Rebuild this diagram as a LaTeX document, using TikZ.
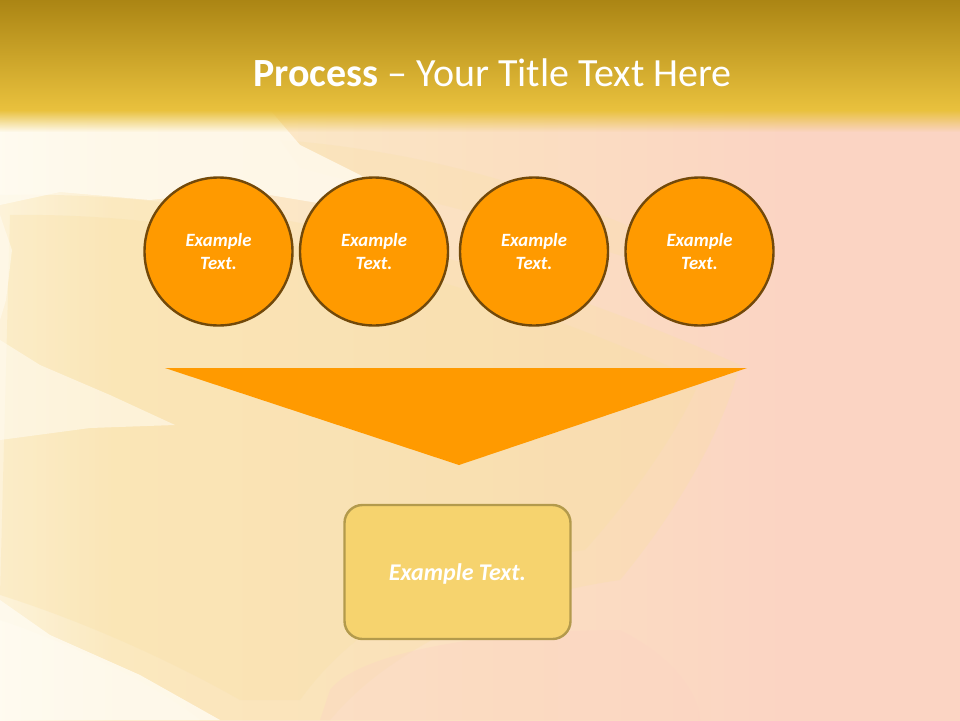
\documentclass[tikz,border=0pt]{standalone}
\usepackage{fontspec}
\setmainfont{Carlito}
\definecolor{bandtop}{HTML}{AB8514}
\definecolor{bandbot}{HTML}{E9C13D}
\definecolor{cream}{HTML}{FFFBF0}
\definecolor{creamb}{HTML}{FCEDCB}
\definecolor{peach}{HTML}{FBE0C1}
\definecolor{pinkbg}{HTML}{FBD4C3}
\definecolor{ystroke}{HTML}{F9E0A4}
\definecolor{orangefill}{HTML}{FF9A00}
\definecolor{circleline}{HTML}{72490A}
\definecolor{boxfill}{HTML}{F6D36E}
\definecolor{boxline}{HTML}{B39A4C}
\pgfdeclarehorizontalshading{bgshade}{100bp}{color(0bp)=(cream); color(25bp)=(cream); color(31bp)=(creamb); color(50bp)=(peach); color(66bp)=(pinkbg); color(75bp)=(pinkbg); color(100bp)=(pinkbg)}
\tikzset{
  stepcircle/.style={circle, minimum size=148pt, inner sep=0pt, fill=orangefill, draw=circleline, line width=2.4pt,
    text=white, align=center, font=\fontsize{18.7}{23}\selectfont\bfseries\itshape},
  resultbox/.style={rectangle, rounded corners=18pt, minimum width=226pt, minimum height=134pt, fill=boxfill, draw=boxline, line width=2.4pt,
    text=white, text depth=0pt, font=\fontsize{24}{28}\selectfont\bfseries\itshape},
  titletext/.style={text=white, inner sep=0pt, font=\fontsize{40}{46}\selectfont}
}
\begin{document}
\begin{tikzpicture}[x=1pt,y=-1pt]
\useasboundingbox (0,0) rectangle (960,720);
% background body
\shade[shading=bgshade] (0,0) rectangle (960,720);
% broad yellow washes (two layers for soft edges)
\fill[ystroke, opacity=0.3] (0,195) .. controls (200,190) and (460,240) .. (740,365)
  .. controls (720,440) and (670,520) .. (620,580) .. controls (480,600) and (380,660) .. (330,720) -- (200,720) .. controls (150,680) and (60,640) .. (0,620) -- cycle;
\fill[ystroke, opacity=0.3] (10,215) .. controls (200,212) and (440,262) .. (700,380)
  .. controls (680,430) and (630,500) .. (585,550) .. controls (440,570) and (350,630) .. (300,700) -- (240,700) .. controls (170,660) and (80,620) .. (0,595) -- cycle;
\fill[ystroke, opacity=0.25] (280,140) .. controls (420,150) and (560,190) .. (680,250) -- (640,262) .. controls (520,222) and (400,195) .. (300,168) -- cycle;
% cream areas
\fill[cream, opacity=0.8] (0,110) -- (270,110) -- (300,145) -- (360,175) -- (420,215) -- (330,205) -- (240,190) -- (150,200) -- (60,192) -- (0,205) -- cycle;
\fill[cream, opacity=0.6] (0,215) -- (12,250) -- (6,300) -- (0,320) -- cycle;
\fill[cream, opacity=0.6] (0,340) -- (40,365) -- (110,395) -- (175,425) -- (90,428) -- (0,440) -- cycle;
\fill[cream, opacity=0.85] (0,600) -- (50,635) -- (140,675) -- (220,720) -- (0,720) -- cycle;
% pink blob bottom
\fill[pinkbg, opacity=0.4] (330,690) .. controls (360,650) and (500,630) .. (620,630) .. controls (680,660) and (700,700) .. (700,720) -- (320,720) -- cycle;
% title band
\shade[top color=bandtop, bottom color=bandbot] (0,0) rectangle (960,110);
\foreach \i [evaluate=\i as \op using 1-\i/22] in {0,...,21}
  \fill[bandbot, opacity=\op] (0,110+\i) rectangle (960,111+\i);
% title
\node[titletext, anchor=base] (title) at (492.5,86) {\textbf{Process} -- Your Title Text Here};
% circles
\node[stepcircle] (c1) at (218.5,251.5) {Example\\Text.};
\node[stepcircle] (c2) at (374,251.5) {Example\\Text.};
\node[stepcircle] (c3) at (534,251.5) {Example\\Text.};
\node[stepcircle] (c4) at (699.5,251.5) {Example\\Text.};
% funnel triangle
\coordinate (tl) at (165,368);
\coordinate (tr) at (747,368);
\coordinate (tb) at (459,465);
\fill[orangefill] (tl) -- (tr) -- (tb) -- cycle;
% result box
\node[resultbox] (res) at (457.5,572) {Example Text.};
\end{tikzpicture}
\end{document}
